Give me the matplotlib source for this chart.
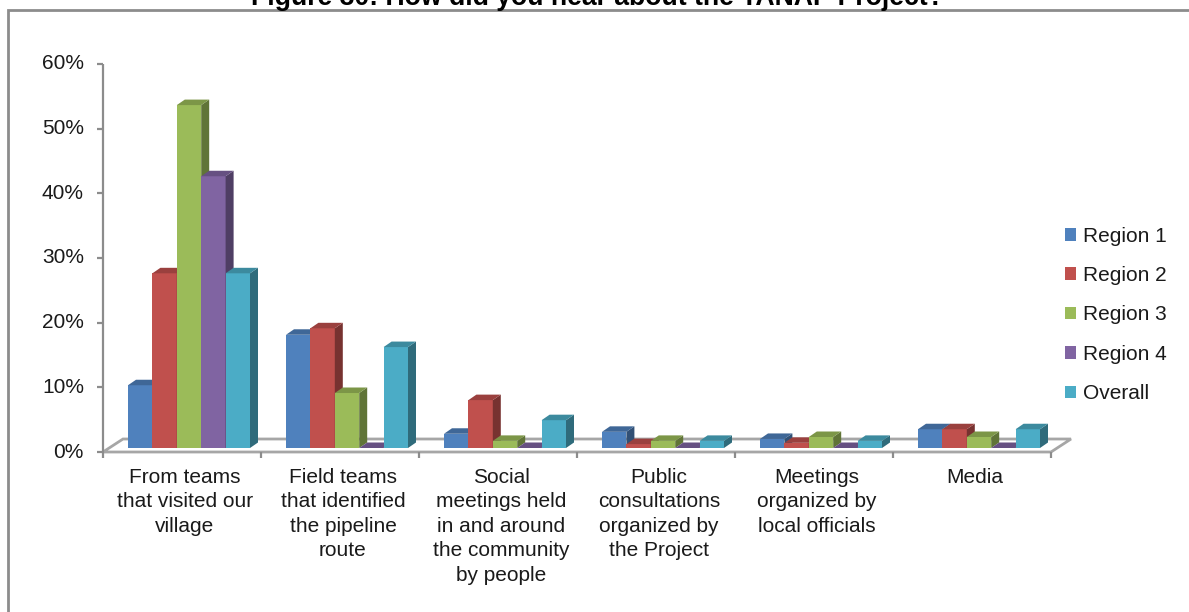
import matplotlib
matplotlib.use("Agg")
import matplotlib.pyplot as plt
from matplotlib.patches import Polygon, Rectangle, Patch
from matplotlib.colors import to_rgb

plt.rcParams['font.family'] = ['Liberation Sans', 'DejaVu Sans']

# ---- data -------------------------------------------------------------
categories = [
    "From teams\nthat visited our\nvillage",
    "Field teams\nthat identified\nthe pipeline\nroute",
    "Social\nmeetings held\nin and around\nthe community\nby people",
    "Public\nconsultations\norganized by\nthe Project",
    "Meetings\norganized by\nlocal officials",
    "Media",
]
series_names = ["Region 1", "Region 2", "Region 3", "Region 4", "Overall"]
region1 = [9.7, 17.5, 2.2, 2.5, 1.4, 2.9]
region2 = [27.0, 18.5, 7.4, 0.6, 0.8, 2.9]
region3 = [53.0, 8.5, 1.1, 1.1, 1.7, 1.7]
region4 = [42.0, 0.0, 0.0, 0.0, 0.0, 0.0]
overall = [27.0, 15.6, 4.3, 1.1, 1.1, 2.9]
series_values = [region1, region2, region3, region4, overall]
colors = ["#4F81BD", "#C0504D", "#9BBB59", "#8064A2", "#4BACC6"]
yticks = [0, 10, 20, 30, 40, 50, 60]
title = "Figure 30: How did you hear about the TANAP Project?"

# ---- figure / axes ----------------------------------------------------
W, H = 1189, 612
fig = plt.figure(figsize=(W / 100, H / 100), dpi=100)

ax_left, ax_right = 103, 1080
ax_bottom, ax_top = 452, 51
px_per_cat = 158.0
px_per_pct = 6.47
ax = fig.add_axes([ax_left / W, 1 - ax_bottom / H,
                   (ax_right - ax_left) / W, (ax_bottom - ax_top) / H])
ax.set_xlim(-0.5, -0.5 + (ax_right - ax_left) / px_per_cat)
ax.set_ylim(0, (ax_bottom - ax_top) / px_per_pct)
ax.axis("off")

n_cat = len(categories)
axis_col = "#8C8C8C"
text_col = "#1A1A1A"
fs = 15

# oblique depth offsets (data units)
floor_dx, floor_dy = 20 / px_per_cat, 13 / px_per_pct
front_dx, front_dy = 7 / px_per_cat, 4 / px_per_pct
bar_dx, bar_dy = 8 / px_per_cat, 5.5 / px_per_pct
bar_w = 24.4 / px_per_cat

# floor
x0, x1 = -0.5, n_cat - 0.5
floor = Polygon([(x0, 0), (x1, 0), (x1 + floor_dx, floor_dy), (x0 + floor_dx, floor_dy)],
                closed=True, facecolor="white", edgecolor="#A6A6A6", lw=2.0,
                joinstyle="miter", zorder=1, clip_on=False)
ax.add_patch(floor)

# value axis
ax.plot([x0, x0], [0, 60], color=axis_col, lw=1.6, zorder=2, clip_on=False,
        solid_capstyle="butt")
tick_len = 6 / px_per_cat
for t in yticks:
    ax.plot([x0 - tick_len, x0], [t, t], color=axis_col, lw=1.6, zorder=2,
            clip_on=False, solid_capstyle="butt")
    ax.text(x0 - 19 / px_per_cat, t, f"{t}%", ha="right", va="center",
            fontsize=fs, color=text_col)

# category axis ticks
for k in range(n_cat + 1):
    xb = -0.5 + k
    ax.plot([xb, xb], [0, -6 / px_per_pct], color=axis_col, lw=1.6, zorder=2,
            clip_on=False, solid_capstyle="butt")

# bars, drawn left to right so neighbours hide each other's side faces
def shade(c, f):
    r, g, b = to_rgb(c)
    return (r * f, g * f, b * f)

n_ser = len(series_values)
group_w = bar_w * n_ser
for i in range(n_cat):
    for s, vals in enumerate(series_values):
        v = vals[i]
        c = colors[s]
        bx = i - group_w / 2 + s * bar_w + front_dx
        by = front_dy
        z = 3 + i * 10 + s * 2
        ax.bar(bx, v, width=bar_w, bottom=by, align="edge", color=c,
               linewidth=0, zorder=z, clip_on=False)
        top = Polygon([(bx, by + v), (bx + bar_w, by + v),
                       (bx + bar_w + bar_dx, by + v + bar_dy), (bx + bar_dx, by + v + bar_dy)],
                      closed=True, facecolor=shade(c, 0.8), edgecolor="none",
                      zorder=z, clip_on=False)
        side = Polygon([(bx + bar_w, by), (bx + bar_w + bar_dx, by + bar_dy),
                        (bx + bar_w + bar_dx, by + v + bar_dy), (bx + bar_w, by + v)],
                       closed=True, facecolor=shade(c, 0.62), edgecolor="none",
                       zorder=z, clip_on=False)
        ax.add_patch(side)
        ax.add_patch(top)

# category labels
for i, lab in enumerate(categories):
    ax.text(i + 3 / px_per_cat, -16 / px_per_pct, lab, ha="center", va="top",
            fontsize=fs, color=text_col, linespacing=1.36)

# legend
handles = [Patch(facecolor=c, edgecolor="none") for c in colors]
fig.legend(handles, series_names, loc="center left",
           bbox_to_anchor=(1065 / W, 1 - 315 / H), frameon=False,
           fontsize=fs, handlelength=0.55, handleheight=0.55,
           handletextpad=0.3, labelspacing=0.98, borderaxespad=0,
           borderpad=0, labelcolor=text_col)

# chart frame
fig.patches.append(Rectangle((8 / W, -0.05), 1.2, 1 - 10 / H + 0.05,
                             transform=fig.transFigure, fill=False,
                             edgecolor="#8C8C8C", lw=2.0))

# title, fitted to its width
t = fig.text(597 / W, 1 - 5 / H, title, ha="center", va="baseline",
             fontsize=16, fontweight="bold", color="black")
fig.canvas.draw()
w = t.get_window_extent(fig.canvas.get_renderer()).width
t.set_fontsize(16 * 695 / w)

fig.savefig("out.png", dpi=100)
